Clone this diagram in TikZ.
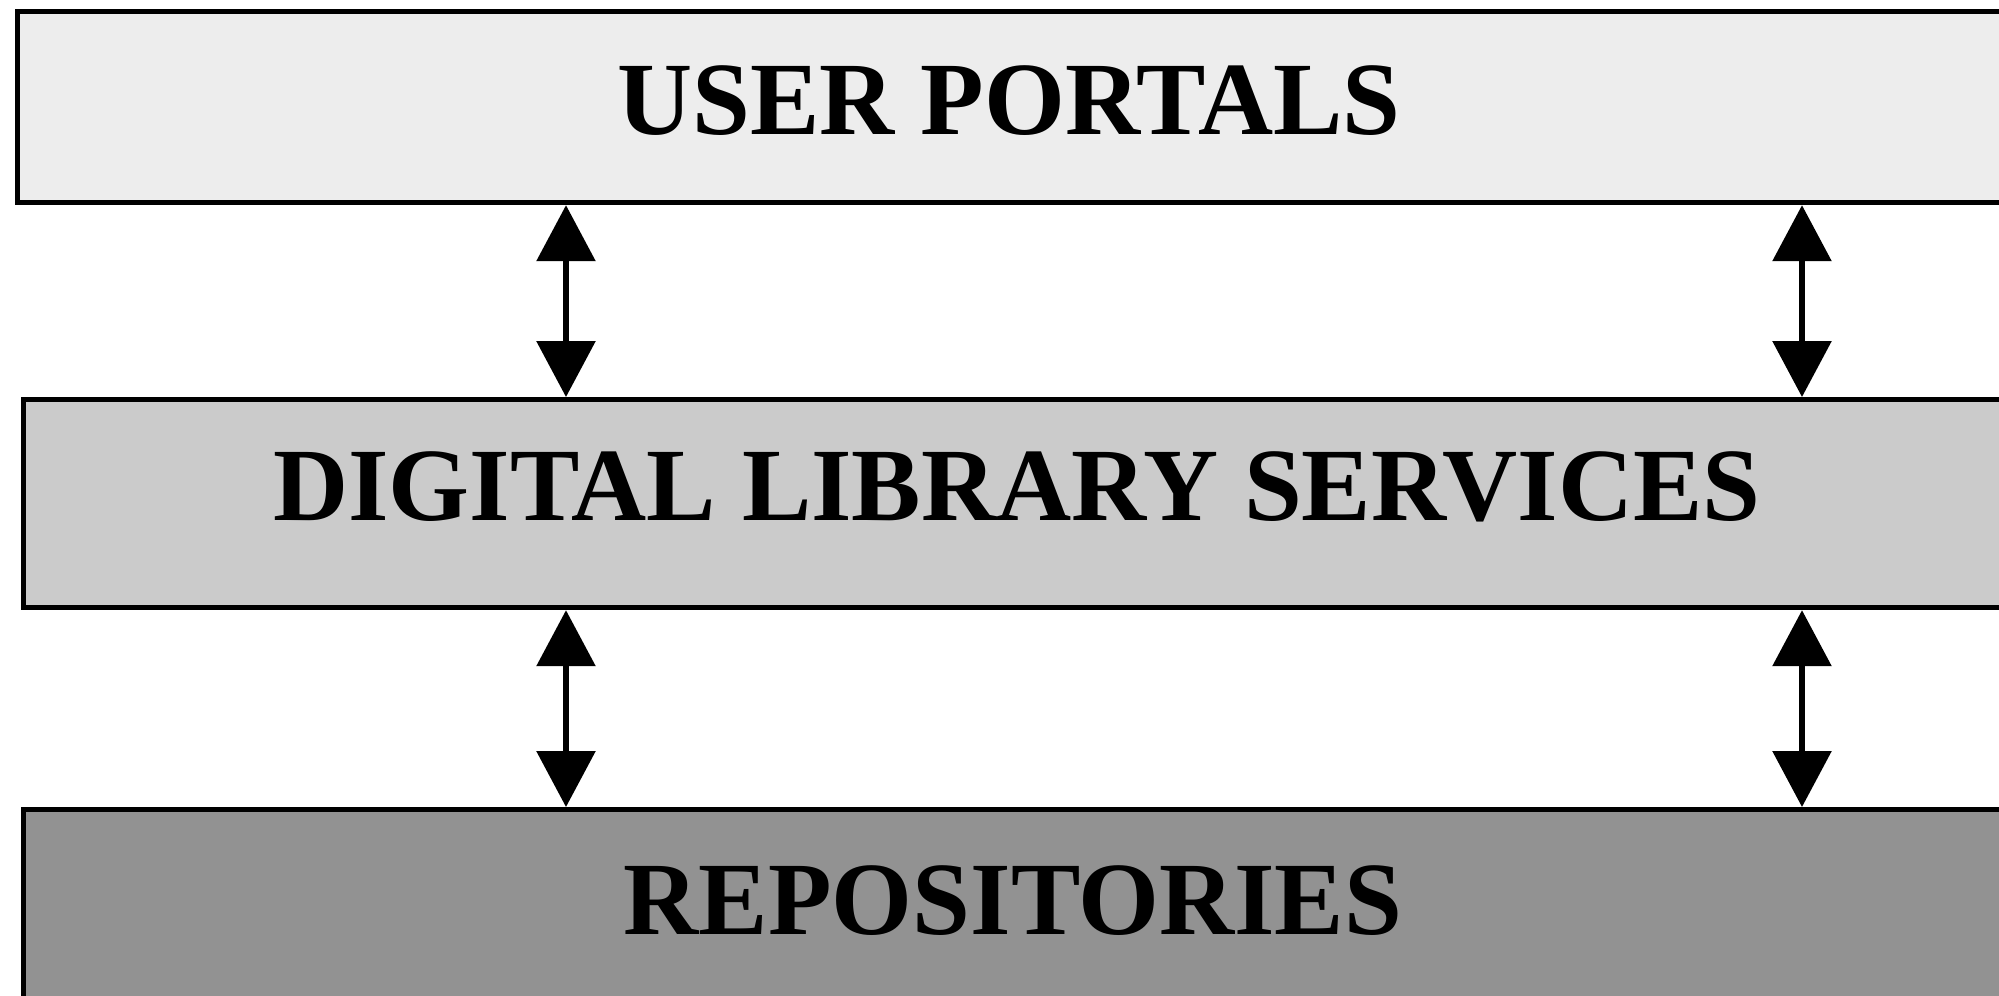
\documentclass[tikz,border=0pt]{standalone}
\usepackage{fontspec}
\setmainfont{Liberation Serif}
\usetikzlibrary{arrows.meta}

\definecolor{portalfill}{HTML}{EDEDED}
\definecolor{servicefill}{HTML}{CBCBCB}
\definecolor{repofill}{HTML}{929292}

\begin{document}
\begin{tikzpicture}[x=0.5pt,y=-0.5pt,
    layer/.style={draw,line width=2.6pt,anchor=north west,inner sep=0pt},
    title/.style={font=\fontsize{52}{60}\selectfont\bfseries},
    link/.style={line width=3pt,
      {Triangle[width=29pt,length=28pt]}-{Triangle[width=29pt,length=28pt]}}]

  \useasboundingbox (0,0) rectangle (1999,996);
  \clip (0,0) rectangle (1999,996);

  % layers
  \node[layer,fill=portalfill,minimum width=993pt,minimum height=95.5pt]
    (portals) at (15,9) {};
  \node[layer,fill=servicefill,minimum width=995pt,minimum height=104pt]
    (services) at (21,397) {};
  \node[layer,fill=repofill,minimum width=992pt,minimum height=150pt]
    (repos) at (21,807) {};

  \node[title] (portalstext)  at (1009,101) {USER PORTALS};
  \node[title] (servicestext) at (1017,487) {DIGITAL LIBRARY SERVICES};
  \node[title] (repostext)    at (1013,901) {REPOSITORIES};

  % links
  \coordinate (left)  at (566,0);
  \coordinate (right) at (1802,0);

  \draw[link] (portals.south -| left)   -- (services.north -| left);
  \draw[link] (portals.south -| right)  -- (services.north -| right);
  \draw[link] (services.south -| left)  -- (repos.north -| left);
  \draw[link] (services.south -| right) -- (repos.north -| right);

\end{tikzpicture}
\end{document}
